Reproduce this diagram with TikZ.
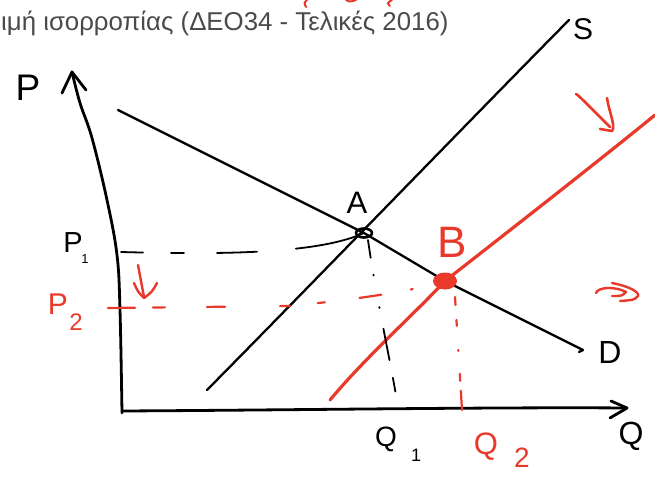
\documentclass[tikz,border=0pt]{standalone}
\usepackage{fontspec}
\setmainfont{Liberation Sans}
\definecolor{pen}{HTML}{E8392B}
\definecolor{titlegrey}{HTML}{4A4A4A}
\begin{document}
\begin{tikzpicture}[x=1pt,y=-1pt,line cap=round,line join=round,
  blackpen/.style={draw=black,line width=2.3pt},
  axispen/.style={draw=black,line width=2.8pt},
  redpen/.style={draw=pen,line width=3.2pt},
  guide/.style={draw=black,line width=1.8pt},
  redguide/.style={draw=pen,line width=2.2pt},
  lbl/.style={inner sep=0pt,text=black},
  redlbl/.style={inner sep=0pt,text=pen}]
\useasboundingbox (0,0) rectangle (655,476);

% title
\node[anchor=base west,inner sep=0pt,text=titlegrey,font=\fontsize{25.8}{28}\selectfont] (title) at (1,31) {ιμή ισορροπίας (ΔΕΟ34 - Τελικές 2016)};
% red fragments at top edge
\draw[redpen,line width=2pt] (307,0) .. controls (304,3) .. (306,7);
\draw[redpen,line width=2pt] (346,0) .. controls (350,2) .. (356,0);
\draw[redpen,line width=2pt] (392,0) .. controls (387,3) .. (390,6);

% key points
\coordinate (O) at (122,411);
\coordinate (ptop) at (72,72);
\coordinate (qend) at (627,408);
\coordinate (A) at (364,233);
\coordinate (B) at (445,281);
\coordinate (p1) at (121,252);
\coordinate (p2) at (108,308);
\coordinate (q1top) at (368,240);
\coordinate (q1) at (396,395);
\coordinate (q2top) at (455,297);
\coordinate (q2) at (462,410);

% axes
\draw[axispen] plot[smooth,tension=0.6] coordinates {(122,413) (120,310) (117,255) (107,200) (92,138) (80,103) (ptop)};
\draw[axispen] (62,93) -- (ptop) -- (86,90);
\draw[axispen] (O) .. controls (300,410) and (500,407) .. (qend);
\draw[axispen] (611,401) -- (qend) -- (610,418);

% supply S
\draw[blackpen] (207,390) .. controls (300,296) and (480,110) .. (569,20);
% demand D
\draw[blackpen] (118,110) -- (A) -- (B) -- (583,350) -- (579,352);

% new supply (red)
\draw[redpen] (330,400) .. controls (365,358) and (410,318) .. (B) .. controls (500,238) and (600,160) .. (655,115);

% guides
\draw[guide,dash pattern=on 22pt off 28pt on 13pt off 33pt on 40pt off 39pt on 90pt] (p1) .. controls (230,255) and (320,253) .. (A);
\draw[guide,dash pattern=on 18pt off 17pt on 1pt off 32pt on 1pt off 21pt on 32pt off 18pt on 14pt] (q1top) .. controls (375,290) and (388,350) .. (q1);
\draw[redguide,dash pattern=on 8pt off 15pt on 6pt off 24pt on 1pt off 23pt on 7pt off 10pt on 25pt] (q2top) -- (q2);
\draw[redguide,dash pattern=on 27pt off 18pt on 12pt off 42pt on 18pt off 55pt on 10pt off 28pt on 7pt off 35pt on 22pt off 30pt on 2pt off 60pt] (p2) -- (290,306) .. controls (350,300) and (410,292) .. (B);

% equilibrium points
\draw[black,line width=2.6pt] (A) ellipse[x radius=8pt,y radius=4.5pt];
\fill[pen] (B) ellipse[x radius=12pt,y radius=8.5pt];

% red arrows
\draw[redpen,line width=2.6pt] (576,94) .. controls (578,95) .. (610,127);
\draw[redpen,line width=2.6pt] (607,98) .. controls (609,112) and (616,126) .. (612,131) -- (600,129);
\draw[redpen,line width=2.4pt] (138,265) -- (144,297);
\draw[redpen,line width=2.4pt] (134,283) .. controls (138,292) .. (144,298) .. controls (152,292) .. (157,283);
\draw[redpen,line width=2.4pt] (596,293) .. controls (598,287) and (615,286) .. (626,292) .. controls (622,296) .. (612,296);
\draw[redpen,line width=2.4pt] (612,283) .. controls (628,286) and (640,292) .. (638,296) .. controls (634,300) .. (620,301);

% labels
\node[lbl,font=\fontsize{37}{37}\selectfont] (Plab) at (28,88) {P};
\node[lbl,font=\fontsize{32}{32}\selectfont] (Qlab) at (631,436) {Q};
\node[lbl,font=\fontsize{30}{30}\selectfont] (Slab) at (583,29) {S};
\node[lbl,font=\fontsize{32}{32}\selectfont] (Dlab) at (610,352) {D};
\node[lbl,font=\fontsize{31}{31}\selectfont] (Alab) at (357,203) {A};
\node[redlbl,font=\fontsize{44}{44}\selectfont] (Blab) at (452,242) {B};
\node[lbl,font=\fontsize{29}{29}\selectfont] (P1lab) at (73,243) {P};
\node[lbl,font=\fontsize{13}{13}\selectfont] (P1sub) at (85,259) {1};
\node[redlbl,font=\fontsize{30}{30}\selectfont] (P2lab) at (58,304) {P};
\node[redlbl,font=\fontsize{24}{24}\selectfont] (P2sub) at (76,322) {2};
\node[lbl,font=\fontsize{28}{28}\selectfont] (Q1lab) at (386,439) {Q};
\node[lbl,font=\fontsize{18}{18}\selectfont] (Q1sub) at (416,455) {1};
\node[redlbl,font=\fontsize{31}{31}\selectfont] (Q2lab) at (486,447) {Q};
\node[redlbl,font=\fontsize{28}{28}\selectfont] (Q2sub) at (522,458) {2};
\end{tikzpicture}
\end{document}
